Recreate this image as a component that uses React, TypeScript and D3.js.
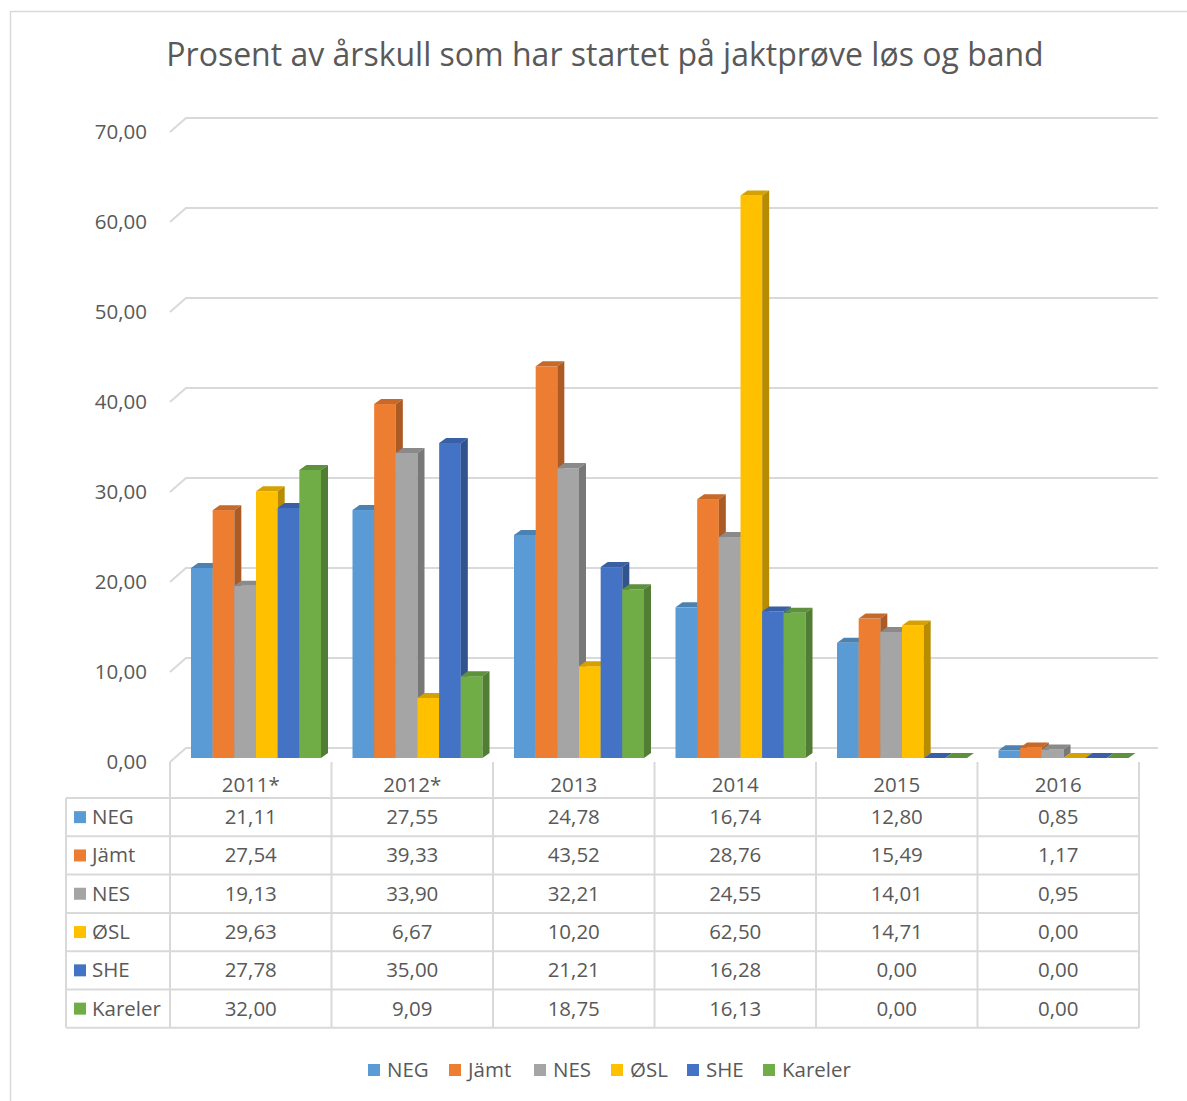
import React from "react";
import * as d3 from "d3";

const categories = ["2011*", "2012*", "2013", "2014", "2015", "2016"];
const seriesNames = ["NEG", "Jämt", "NES", "ØSL", "SHE", "Kareler"];
const colors = ["#5B9BD5", "#ED7D31", "#A5A5A5", "#FFC000", "#4472C4", "#70AD47"];
const NEG = [21.11, 27.55, 24.78, 16.74, 12.8, 0.85];
const Jamt = [27.54, 39.33, 43.52, 28.76, 15.49, 1.17];
const NES = [19.13, 33.9, 32.21, 24.55, 14.01, 0.95];
const OSL = [29.63, 6.67, 10.2, 62.5, 14.71, 0.0];
const SHE = [27.78, 35.0, 21.21, 16.28, 0.0, 0.0];
const Kareler = [32.0, 9.09, 18.75, 16.13, 0.0, 0.0];
const seriesValues = [NEG, Jamt, NES, OSL, SHE, Kareler];
const yTicks = [0, 10, 20, 30, 40, 50, 60, 70];
const title = "Prosent av årskull som har startet på jaktprøve løs og band";

const W = 1187;
const H = 1101;
const FONT = "'Open Sans', sans-serif";
const TXT = "#595959";
const GRID = "#d9d9d9";
const FS = 20.5;

const fmt = (v: number) => d3.format(".2f")(v).replace(".", ",");

export default function App() {
  const plotLeft = 170;
  const plotRight = 1139;
  const backDx = 16;
  const backDy = -14;
  const y = d3.scaleLinear().domain([0, 70]).range([762, 132]);
  const x = d3.scaleBand().domain(categories).range([plotLeft, plotRight]).padding(0);
  const inner = d3.scaleBand().domain(seriesNames).range([21, 151]).padding(0);
  const bw = inner.bandwidth();
  const depthDx = 7;
  const depthDy = -5;
  const barShiftY = -4;

  const tableTop = 798;
  const rowH = 38.3;
  const tableLeft = 66;

  const bars: React.ReactNode[] = [];
  categories.forEach((c, ci) => {
    seriesNames.forEach((s, si) => {
      const v = seriesValues[si][ci];
      const x0 = (x(c) as number) + (inner(s) as number);
      const x1 = x0 + bw;
      const yb = y(0) + barShiftY;
      const yt = y(v) + barShiftY;
      const base = d3.color(colors[si])!;
      const side = base.darker(0.9).toString();
      const top = base.darker(0.5).toString();
      bars.push(
        <g key={`${ci}-${si}`}>
          {v > 0 && <rect x={x0} y={yt} width={bw} height={yb - yt} fill={colors[si]} />}
          <polygon
            points={`${x0},${yt} ${x1},${yt} ${x1 + depthDx},${yt + depthDy} ${x0 + depthDx},${yt + depthDy}`}
            fill={top}
          />
          {v > 0 && (
            <polygon
              points={`${x1},${yt} ${x1 + depthDx},${yt + depthDy} ${x1 + depthDx},${yb + depthDy} ${x1},${yb}`}
              fill={side}
            />
          )}
        </g>
      );
    });
  });

  return (
    <svg width={W} height={H} style={{ position: "absolute", left: 0, top: 0 }} fontFamily={FONT}>
      <rect x={0} y={0} width={W} height={H} fill="#fff" />
      <rect x={10.5} y={11.5} width={W + 20} height={H + 20} fill="none" stroke={GRID} strokeWidth={1.5} />
      <text x={605} y={66} textAnchor="middle" fontSize={32} fill={TXT}>
        {title}
      </text>
      {yTicks.map((t) => (
        <g key={t}>
          <polyline
            points={`${plotLeft},${y(t)} ${plotLeft + backDx},${y(t) + backDy} 1158,${y(t) + backDy}`}
            fill="none"
            stroke={GRID}
            strokeWidth={2}
          />
          <text x={147} y={y(t) + 7} textAnchor="end" fontSize={FS} fill={TXT}>
            {fmt(t)}
          </text>
        </g>
      ))}
      {bars}
      {/* table */}
      {d3.range(7).map((i) => (
        <line
          key={`h${i}`}
          x1={tableLeft}
          x2={plotRight}
          y1={tableTop + i * rowH}
          y2={tableTop + i * rowH}
          stroke={GRID}
          strokeWidth={2}
        />
      ))}
      <line x1={tableLeft} x2={tableLeft} y1={tableTop} y2={tableTop + 6 * rowH} stroke={GRID} strokeWidth={2} />
      {categories.map((c) => (
        <line
          key={`v${c}`}
          x1={x(c) as number}
          x2={x(c) as number}
          y1={762}
          y2={tableTop + 6 * rowH}
          stroke={GRID}
          strokeWidth={2}
        />
      ))}
      <line x1={plotRight} x2={plotRight} y1={762} y2={tableTop + 6 * rowH} stroke={GRID} strokeWidth={2} />
      {categories.map((c) => (
        <text
          key={`c${c}`}
          x={(x(c) as number) + x.bandwidth() / 2}
          y={792}
          textAnchor="middle"
          fontSize={FS}
          fill={TXT}
        >
          {c}
        </text>
      ))}
      {seriesNames.map((s, si) => {
        const ry = tableTop + si * rowH + rowH / 2;
        return (
          <g key={`r${s}`}>
            <rect x={74} y={ry - 6} width={12} height={12} fill={colors[si]} />
            <text x={92} y={ry + 7} fontSize={FS} fill={TXT}>
              {s}
            </text>
            {categories.map((c, ci) => (
              <text
                key={`t${ci}`}
                x={(x(c) as number) + x.bandwidth() / 2}
                y={ry + 7}
                textAnchor="middle"
                fontSize={FS}
                fill={TXT}
              >
                {fmt(seriesValues[si][ci])}
              </text>
            ))}
          </g>
        );
      })}
      {/* legend */}
      {(() => {
        const legendX = [368, 449, 534, 611, 687, 763];
        return seriesNames.map((s, si) => (
          <g key={`l${s}`}>
            <rect x={legendX[si]} y={1064} width={12} height={12} fill={colors[si]} />
            <text x={legendX[si] + 19} y={1077} fontSize={FS} fill={TXT}>
              {s}
            </text>
          </g>
        ));
      })()}
    </svg>
  );
}
